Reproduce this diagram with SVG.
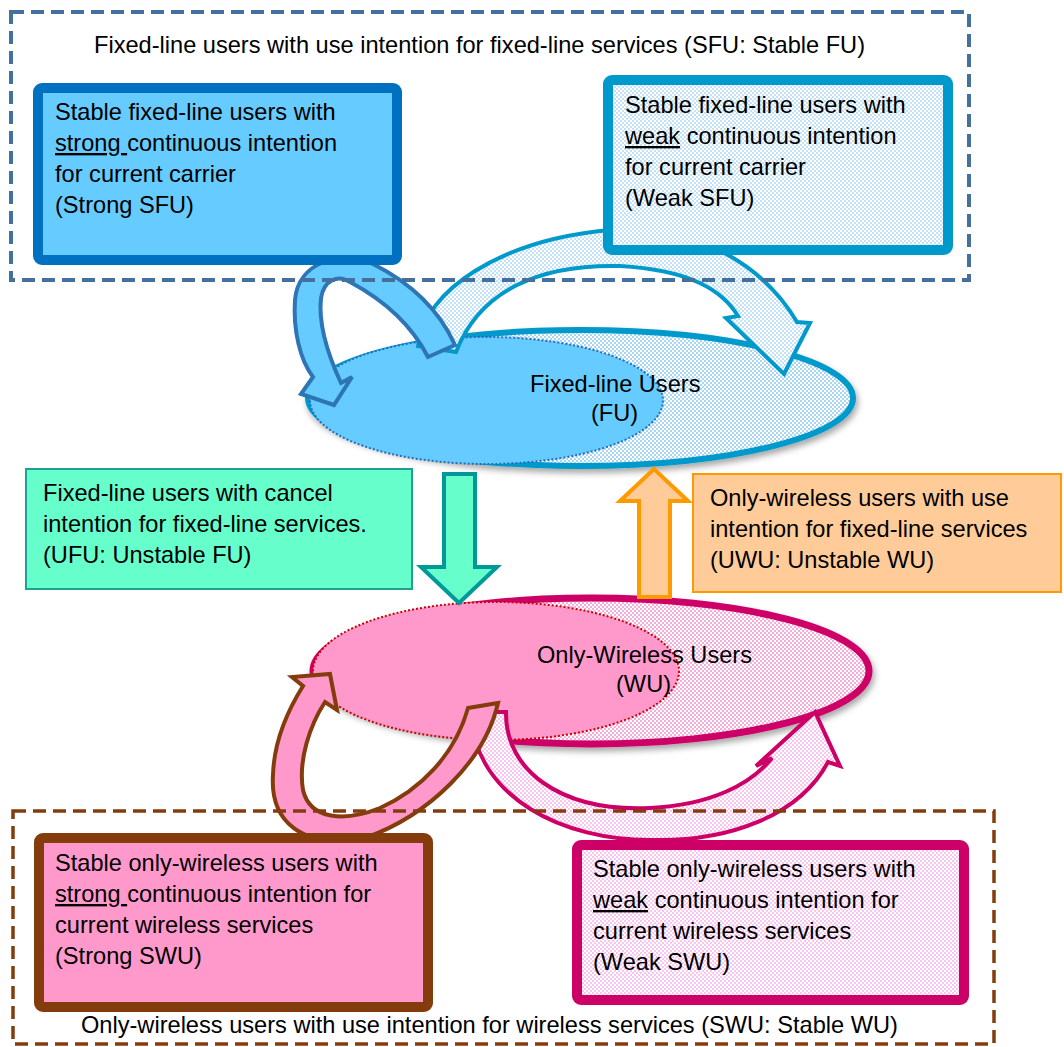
<svg xmlns="http://www.w3.org/2000/svg" width="1064" height="1047" viewBox="0 0 1064 1047">
<style>
.t{font-family:"Liberation Sans",Arial,sans-serif;font-size:23.6px;fill:#000}
.u{text-decoration:underline}
.dash{fill:none;stroke-dasharray:13 7}
</style>
<defs>
<pattern id="pb" width="4" height="4" patternUnits="userSpaceOnUse">
<rect width="4" height="4" fill="#ffffff"/>
<rect width="2" height="2" fill="#A9D6F1"/>
<rect x="2" y="2" width="2" height="2" fill="#A9D6F1"/>
</pattern>
<pattern id="pb2" width="4" height="4" patternUnits="userSpaceOnUse">
<rect width="4" height="4" fill="#ffffff"/>
<rect width="2" height="2" fill="#C3E2F5"/>
<rect x="2" y="2" width="2" height="2" fill="#C3E2F5"/>
</pattern>
<pattern id="pp" width="4" height="4" patternUnits="userSpaceOnUse">
<rect width="4" height="4" fill="#ffffff"/>
<rect width="2" height="2" fill="#F5AEDA"/>
<rect x="2" y="2" width="2" height="2" fill="#F5AEDA"/>
</pattern>
<pattern id="pp2" width="4" height="4" patternUnits="userSpaceOnUse">
<rect width="4" height="4" fill="#ffffff"/>
<rect width="2" height="2" fill="#F8C6EE"/>
<rect x="2" y="2" width="2" height="2" fill="#F8C6EE"/>
</pattern>
<filter id="sh" x="-10%" y="-20%" width="120%" height="150%">
<feDropShadow dx="2" dy="4" stdDeviation="3" flood-color="#000" flood-opacity="0.35"/>
</filter>
</defs>

<g id="fu-ellipse">
<ellipse cx="580.5" cy="398" rx="272.5" ry="68" fill="url(#pb)" stroke="#0099CC" stroke-width="6" filter="url(#sh)"/>
<ellipse cx="486.5" cy="400.5" rx="176.5" ry="63.5" fill="#66CCFF" stroke="#1F6FBF" stroke-width="2" stroke-dasharray="2 2"/>
</g>

<g id="wu-ellipse">
<ellipse cx="591" cy="671" rx="278" ry="73" fill="url(#pp)" stroke="#CC0066" stroke-width="7" filter="url(#sh)"/>
<ellipse cx="496" cy="671" rx="183" ry="69" fill="#FF99CC" stroke="#CC0000" stroke-width="2" stroke-dasharray="2 2"/>
</g>

<g id="connectors">
<path id="arc-weak-sfu" d="M418,346 C425,290 500,240 610,230 C690,224 760,260 797,322 L810,323 L784,374 L726,318 L738,316 C722,290 690,270 620,266 C540,264 480,290 456,352 Z" fill="url(#pb2)" stroke="#0099CC" stroke-width="4"/>
<path id="loop-strong-sfu" d="M455,345 C440,312 415,285 373,264 C340,250 298,262 295,300 C293,330 300,360 313,377 L301,394 L334,405 L352,377 L341,383 C328,355 318,325 321,298 C324,280 338,274 350,282 C380,298 410,322 428,357 Z" fill="#66CCFF" stroke="#2E75B6" stroke-width="4"/>
<path id="arc-weak-swu" d="M470,712 L506,712 C505,770 560,812 650,808 C710,805 750,785 772,758 L756,766 L815,712 L840,766 L828,762 C800,815 730,842 650,840 C565,840 476,800 470,712 Z" fill="url(#pp2)" stroke="#CC0066" stroke-width="4"/>
<path id="loop-strong-swu" d="M468,708 L498,703 C485,760 430,815 365,838 C300,850 270,820 273,775 C274,740 288,710 303,686 L292,677 L330,674 L337,710 L325,702 C310,725 298,760 303,790 C310,820 345,822 380,808 C420,790 455,755 468,708 Z" fill="#FF99CC" stroke="#843C0C" stroke-width="4"/>
<polygon id="arrow-ufu" points="444,474 475,474 475,567 497,567 459,603 421,567 444,567" fill="#66FFCC" stroke="#009999" stroke-width="4"/>
<polygon id="arrow-uwu" points="639,597 670,597 670,501 688,501 654,469 620,501 639,501" fill="#FFCC99" stroke="#FF9900" stroke-width="4"/>
</g>

<g id="strong-sfu">
<rect x="38" y="88" width="359" height="172" rx="4" fill="#66CCFF" stroke="#0070C0" stroke-width="10"/>
<text class="t" x="55" y="120">Stable fixed-line users with</text>
<text class="t" x="55" y="151"><tspan class="u">strong </tspan>continuous intention</text>
<text class="t" x="55" y="182">for current carrier</text>
<text class="t" x="55" y="213">(Strong SFU)</text>
</g>

<g id="weak-sfu">
<rect x="608" y="80" width="340" height="170" rx="4" fill="url(#pb2)" stroke="#0099CC" stroke-width="10"/>
<text class="t" x="625" y="113">Stable fixed-line users with</text>
<text class="t" x="625" y="144"><tspan class="u">weak</tspan> continuous intention</text>
<text class="t" x="625" y="175">for current carrier</text>
<text class="t" x="625" y="206">(Weak SFU)</text>
</g>

<g id="ufu">
<rect x="26" y="469" width="386" height="120" fill="#66FFCC" stroke="#20A090" stroke-width="2"/>
<text class="t" x="43" y="501">Fixed-line users with cancel</text>
<text class="t" x="43" y="532">intention for fixed-line services.</text>
<text class="t" x="43" y="563">(UFU: Unstable FU)</text>
</g>

<g id="uwu">
<rect x="693" y="474" width="368" height="118" fill="#FFCC99" stroke="#FF9900" stroke-width="2"/>
<text class="t" x="710" y="506">Only-wireless users with use</text>
<text class="t" x="710" y="537">intention for fixed-line services</text>
<text class="t" x="710" y="568">(UWU: Unstable WU)</text>
</g>

<g id="strong-swu">
<rect x="39" y="838" width="389" height="169" rx="4" fill="#FF99CC" stroke="#843C0C" stroke-width="10"/>
<text class="t" x="55" y="871">Stable only-wireless users with</text>
<text class="t" x="55" y="902"><tspan class="u">strong </tspan>continuous intention for</text>
<text class="t" x="55" y="933">current wireless services</text>
<text class="t" x="55" y="964">(Strong SWU)</text>
</g>

<g id="weak-swu">
<rect x="577" y="845" width="387" height="155" rx="4" fill="url(#pp2)" stroke="#CC0066" stroke-width="10"/>
<text class="t" x="593" y="877">Stable only-wireless users with</text>
<text class="t" x="593" y="908"><tspan class="u">weak</tspan> continuous intention for</text>
<text class="t" x="593" y="939">current wireless services</text>
<text class="t" x="593" y="970">(Weak SWU)</text>
</g>

<g id="sfu-group">
<rect class="dash" x="11" y="12" width="958" height="268" stroke="#44709E" stroke-width="4"/>
<text class="t" x="94" y="53">Fixed-line users with use intention for fixed-line services (SFU: Stable FU)</text>
</g>

<g id="swu-group">
<rect class="dash" x="13" y="811" width="981" height="233" stroke="#843C0C" stroke-width="3.5"/>
<text class="t" x="81" y="1033">Only-wireless users with use intention for wireless services (SWU: Stable WU)</text>
</g>

<g id="fu-label">
<text class="t" x="530" y="392">Fixed-line Users</text>
<text class="t" x="591" y="421">(FU)</text>
</g>

<g id="wu-label">
<text class="t" x="537" y="663">Only-Wireless Users</text>
<text class="t" x="616" y="692">(WU)</text>
</g>
</svg>
